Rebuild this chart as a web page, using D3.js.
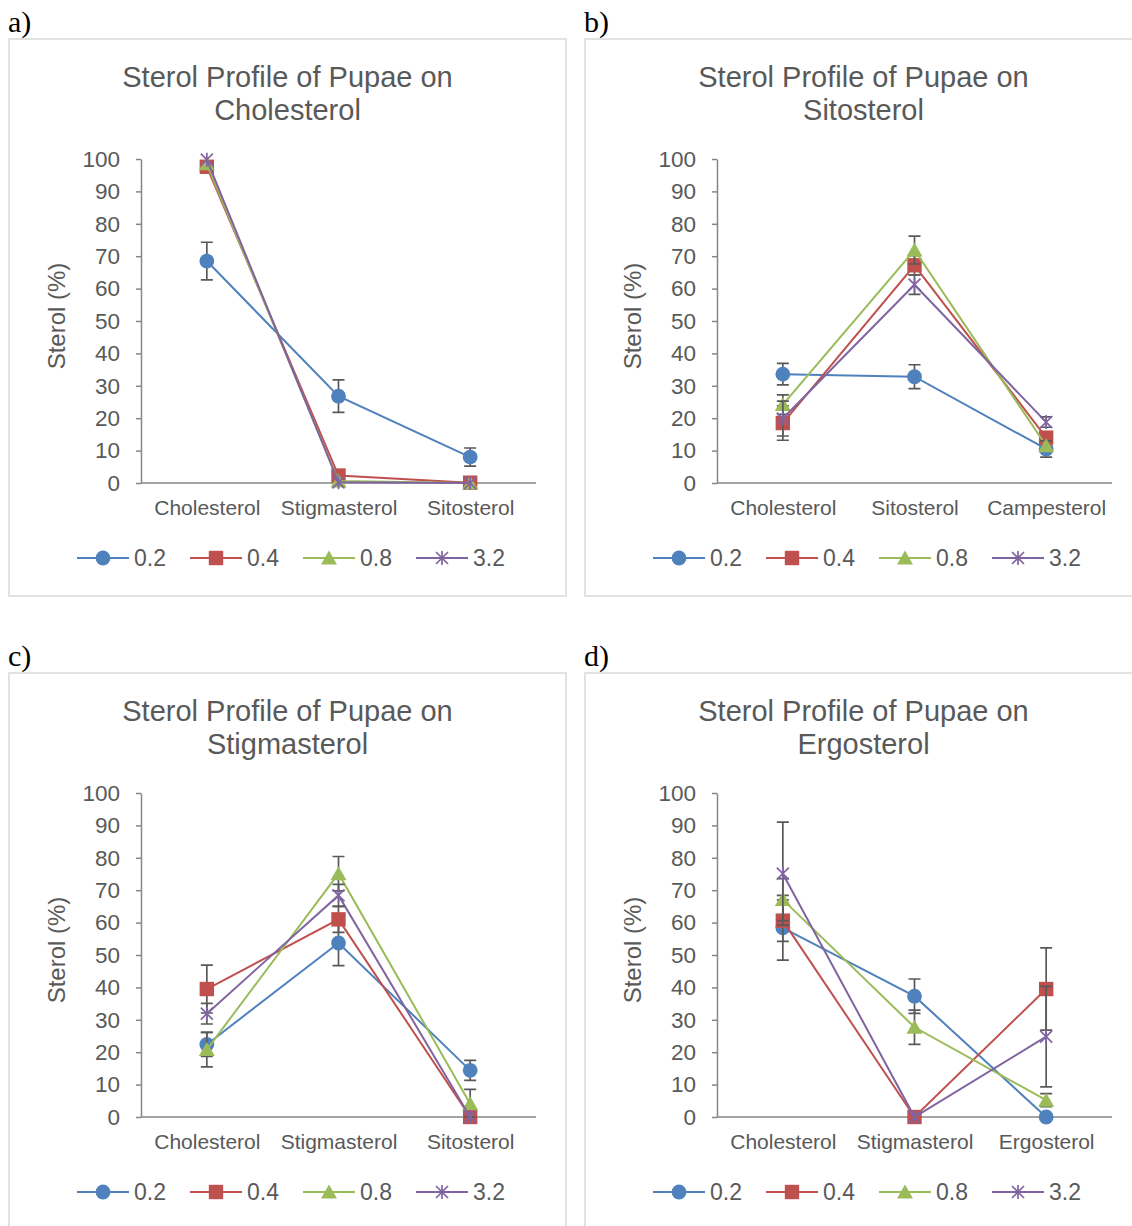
<!DOCTYPE html>
<html>
<head>
<meta charset="utf-8">
<script src="https://cdn.jsdelivr.net/npm/d3@7"></script>
<style>
body { margin: 0; background: #fff; }
text { font-family: "Liberation Sans", Arial, sans-serif; fill: #595959; }
</style>
</head>
<body>
<svg id="chart" width="1132" height="1226"></svg>
<script>
// series = larval diet concentration
const concentrations = ["0.2", "0.4", "0.8", "3.2"];
const yTicks = [0, 10, 20, 30, 40, 50, 60, 70, 80, 90, 100];

// a) pupae on cholesterol
const catsA = ["Cholesterol", "Stigmasterol", "Sitosterol"];
const meansA = [
	[68.5, 26.8, 8.0],
	[97.6, 2.3, 0.1],
	[98.5, 0.6, 0],
	[99.8, 0.2, 0]
];
const errA = [
	[5.8, 5.0, 2.8],
	[0, 0, 0],
	[0, 0, 0],
	[0, 0, 0]
];

// b) pupae on sitosterol
const catsB = ["Cholesterol", "Sitosterol", "Campesterol"];
const meansB = [
	[33.6, 32.8, 10.5],
	[18.5, 67.2, 14.0],
	[24.2, 71.9, 11.5],
	[19.9, 61.2, 18.8]
];
const errB = [
	[3.3, 3.7, 2.5],
	[5.3, 3.0, 1.5],
	[3.0, 4.3, 1.5],
	[5.4, 3.0, 1.6]
];

// c) pupae on stigmasterol
const catsC = ["Cholesterol", "Stigmasterol", "Sitosterol"];
const meansC = [
	[22.4, 53.7, 14.4],
	[39.5, 61.0, 0],
	[20.8, 75.1, 4.1],
	[31.9, 68.4, 0]
];
const errC = [
	[3.7, 7.0, 3.1],
	[7.4, 4.0, 0],
	[5.3, 5.3, 4.4],
	[3.2, 3.4, 0]
];

// d) pupae on ergosterol
const catsD = ["Cholesterol", "Stigmasterol", "Ergosterol"];
const meansD = [
	[58.4, 37.3, 0],
	[60.6, 0, 39.5],
	[67.1, 27.7, 5.2],
	[75.1, 0, 24.8]
];
const errD = [
	[10.0, 5.3, 0],
	[6.4, 0, 12.7],
	[6.5, 5.3, 2.0],
	[15.9, 0, 15.5]
];

const colors = ["#4F81BD", "#C0504D", "#9BBB59", "#8064A2"];
const shapes = ["circle", "square", "triangle", "star"];

const panels = [
	{letter: "a)", sub: "Cholesterol", cats: catsA, means: meansA, errs: errA, col: 0, row: 0},
	{letter: "b)", sub: "Sitosterol", cats: catsB, means: meansB, errs: errB, col: 1, row: 0},
	{letter: "c)", sub: "Stigmasterol", cats: catsC, means: meansC, errs: errC, col: 0, row: 1},
	{letter: "d)", sub: "Ergosterol", cats: catsD, means: meansD, errs: errD, col: 1, row: 1}
];

var svg = d3.select("#chart");
var boxW = 557, boxH = 557;
var plot = {left: 132, right: 527, top: 120, bottom: 444};

function marker(g, shape, color, x, y) {
	if (shape == "circle") {
		g.append("circle").attr("cx", x).attr("cy", y).attr("r", 7.4).attr("fill", color);
	} else if (shape == "square") {
		g.append("rect").attr("x", x - 7.2).attr("y", y - 7.2).attr("width", 14.4).attr("height", 14.4).attr("fill", color);
	} else if (shape == "triangle") {
		g.append("path")
			.attr("d", `M${x},${y - 7.5}L${x + 8},${y + 6.5}L${x - 8},${y + 6.5}Z`)
			.attr("fill", color);
	} else {
		g.append("path")
			.attr("d", `M${x - 6},${y - 6}L${x + 6},${y + 6}M${x - 6},${y + 6}L${x + 6},${y - 6}M${x},${y - 7}L${x},${y + 7}`)
			.attr("stroke", color).attr("stroke-width", 1.7).attr("fill", "none");
	}
}

function drawPanel(p) {
	var ox = 9 + p.col * 576, oy = 39 + p.row * 634;

	svg.append("text")
		.attr("x", ox - 1).attr("y", oy - 7)
		.style("font-family", '"Liberation Serif", "Times New Roman", serif')
		.style("font-size", "30px").style("fill", "#000")
		.text(p.letter);

	var g = svg.append("g").attr("transform", "translate(" + ox + "," + oy + ")");

	g.append("rect")
		.attr("x", 0).attr("y", 0).attr("width", boxW).attr("height", boxH)
		.attr("fill", "none").attr("stroke", "#d9d9d9").attr("stroke-width", 1.5);

	var title = g.append("text").attr("text-anchor", "middle").style("font-size", "29px");
	title.append("tspan").attr("x", 278.5).attr("y", 48).text("Sterol Profile of Pupae on");
	title.append("tspan").attr("x", 278.5).attr("y", 81).text(p.sub);

	var x = d3.scalePoint().domain(p.cats).range([plot.left, plot.right]).padding(0.5);
	var y = d3.scaleLinear().domain([0, 100]).range([plot.bottom, plot.top]);

	var yAxis = g.append("g")
		.attr("transform", "translate(" + plot.left + ",0)")
		.call(d3.axisLeft(y).tickValues(yTicks).tickSize(5).tickSizeOuter(0).tickPadding(16));
	yAxis.selectAll("path, line").attr("stroke", "#868686").attr("stroke-width", 1.5);
	yAxis.selectAll("text").style("font-size", "22.5px").style("font-family", null).attr("fill", null);

	var xAxis = g.append("g")
		.attr("transform", "translate(0," + plot.bottom + ")")
		.call(d3.axisBottom(x).tickSize(0).tickSizeOuter(0).tickPadding(17));
	xAxis.select(".domain").attr("d", "M" + plot.left + ",0H" + plot.right)
		.attr("stroke", "#868686").attr("stroke-width", 1.5);
	xAxis.selectAll("text").style("font-size", "21px").style("font-family", null).attr("fill", null);

	g.append("text")
		.attr("transform", "translate(55.5,277) rotate(-90)")
		.attr("text-anchor", "middle")
		.style("font-size", "24px")
		.text("Sterol (%)");

	var line = d3.line().x(function(d, i) { return x(p.cats[i]); }).y(function(d) { return y(d); });

	p.means.forEach(function(vals, s) {
		var sg = g.append("g").attr("class", "series");
		sg.append("path").datum(vals)
			.attr("d", line).attr("fill", "none")
			.attr("stroke", colors[s]).attr("stroke-width", 2);
		vals.forEach(function(v, i) {
			var e = p.errs[s][i];
			if (e > 0) {
				var cx = x(p.cats[i]);
				var t = y(v + e), b = y(Math.max(0, v - e));
				sg.append("path")
					.attr("d", `M${cx},${t}V${b}M${cx - 6},${t}H${cx + 6}M${cx - 6},${b}H${cx + 6}`)
					.attr("stroke", "#595959").attr("stroke-width", 1.7).attr("fill", "none");
			}
		});
		vals.forEach(function(v, i) {
			marker(sg, shapes[s], colors[s], x(p.cats[i]), y(v));
		});
	});

	// legend
	var lg = g.append("g").attr("transform", "translate(0,519)");
	concentrations.forEach(function(c, s) {
		var lx = 68 + s * 113;
		lg.append("line").attr("x1", lx).attr("x2", lx + 52).attr("y1", 0).attr("y2", 0)
			.attr("stroke", colors[s]).attr("stroke-width", 2);
		marker(lg, shapes[s], colors[s], lx + 26, 0);
		lg.append("text").attr("x", lx + 57).attr("y", 8).style("font-size", "23px").text(c);
	});
}

panels.forEach(drawPanel);
</script>
</body>
</html>
